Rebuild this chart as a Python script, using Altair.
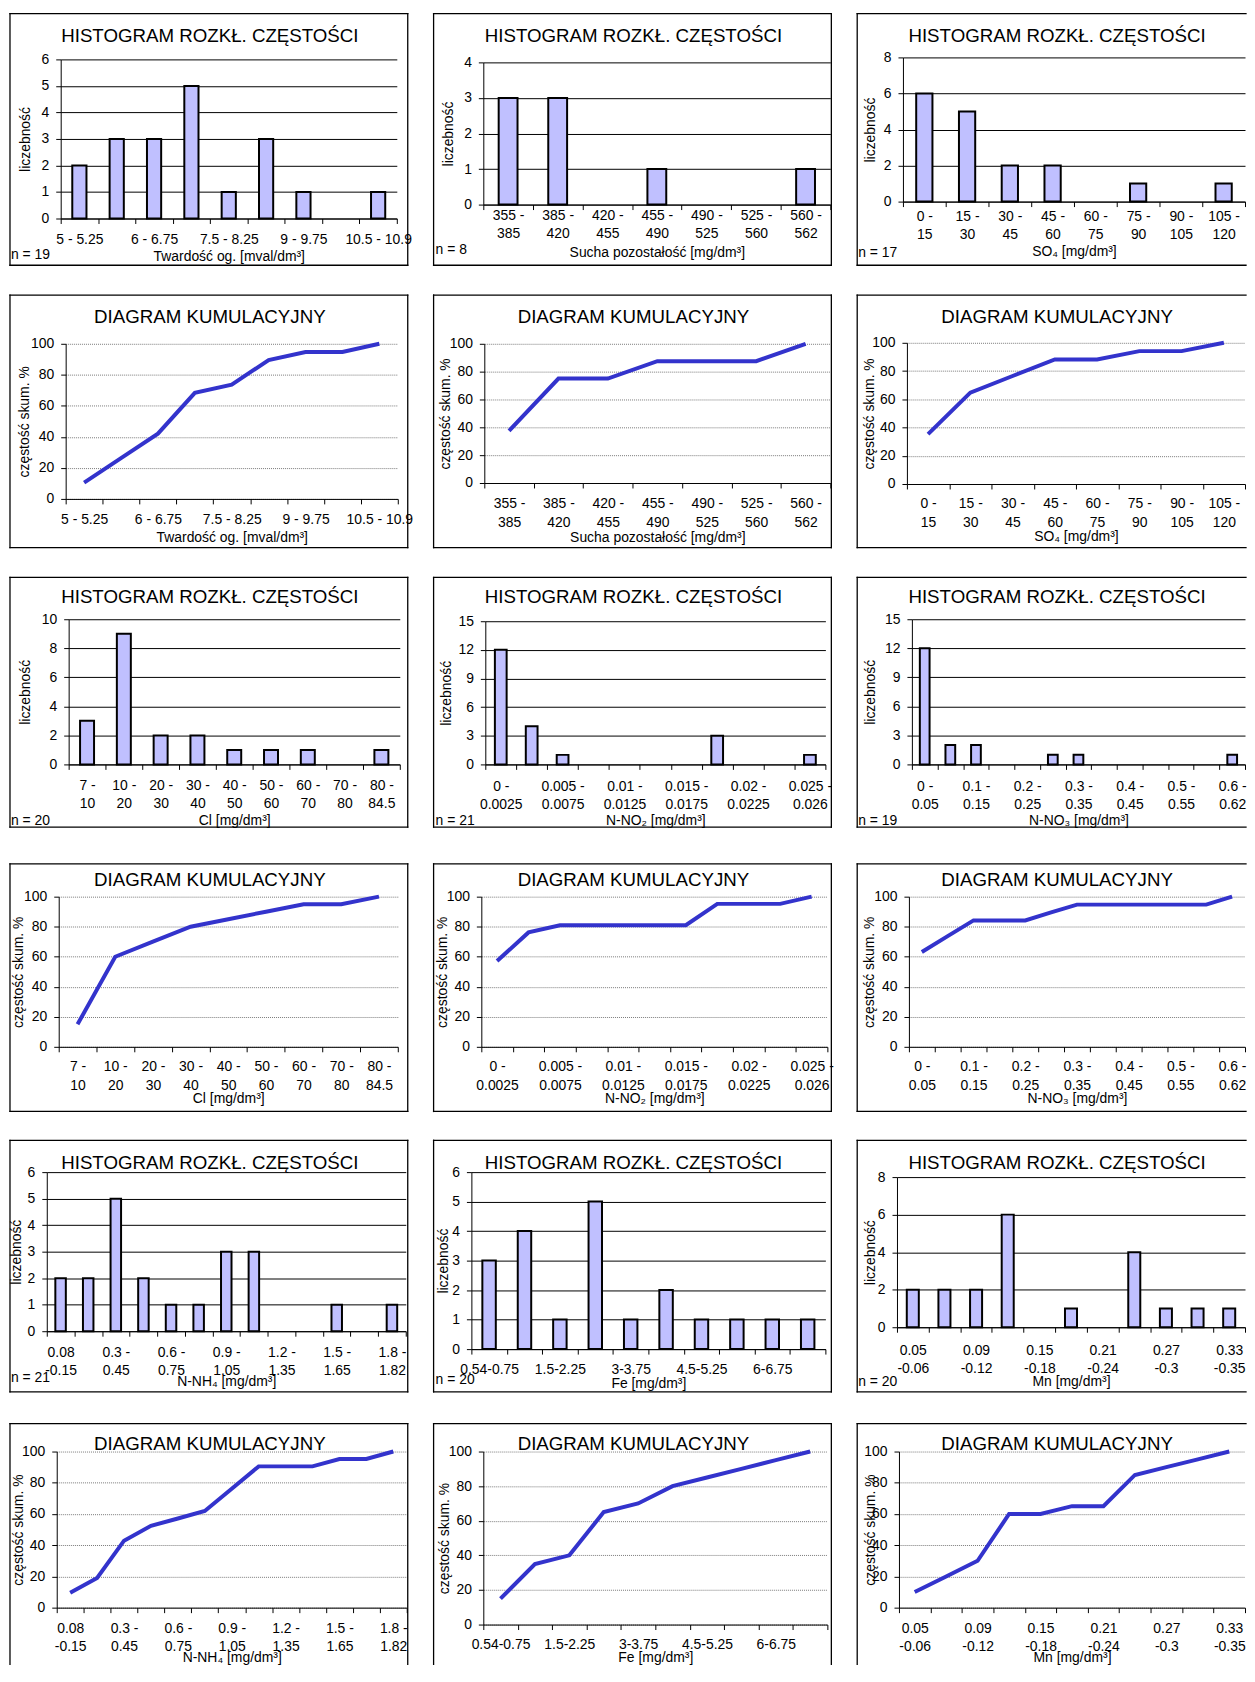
import json
import altair as alt
import pandas as pd

FONT = "Liberation Sans"
FS = 14
TICK = 5
BAR_FILL = "#C0C0FF"
LINE_COLOR = "#3333CC"

HIST_TITLE = "HISTOGRAM ROZKŁ. CZĘSTOŚCI"
CUM_TITLE = "DIAGRAM KUMULACYJNY"
Y_HIST = "liczebność"
Y_CUM = "częstość skum.  %"

# ---------------- data ----------------
tw_cats = ["5 - 5.25", "5.25 - 6", "6 - 6.75", "6.75 - 7.5", "7.5 - 8.25",
           "8.25 - 9", "9 - 9.75", "9.75 - 10.5", "10.5 - 10.9"]
tw_counts = [2, 3, 3, 5, 1, 3, 1, 0, 1]
tw_cum = [10.5, 26.3, 42.1, 68.4, 73.7, 89.5, 94.7, 94.7, 100]

sp_cats = ["355 - 385", "385 - 420", "420 - 455", "455 - 490", "490 - 525",
           "525 - 560", "560 - 562"]
sp_counts = [3, 3, 0, 1, 0, 0, 1]
sp_cum = [37.5, 75, 75, 87.5, 87.5, 87.5, 100]

so4_cats = ["0 - 15", "15 - 30", "30 - 45", "45 - 60", "60 - 75", "75 - 90",
            "90 - 105", "105 - 120"]
so4_counts = [6, 5, 2, 2, 0, 1, 0, 1]
so4_cum = [35.3, 64.7, 76.5, 88.2, 88.2, 94.1, 94.1, 100]

cl_cats = ["7 - 10", "10 - 20", "20 - 30", "30 - 40", "40 - 50", "50 - 60",
           "60 - 70", "70 - 80", "80 - 84.5"]
cl_counts = [3, 9, 2, 2, 1, 1, 1, 0, 1]
cl_cum = [15, 60, 70, 80, 85, 90, 95, 95, 100]

no2_cats = ["0 - 0.0025", "0.0025 - 0.005", "0.005 - 0.0075", "0.0075 - 0.01",
            "0.01 - 0.0125", "0.0125 - 0.015", "0.015 - 0.0175", "0.0175 - 0.02",
            "0.02 - 0.0225", "0.0225 - 0.025", "0.025 - 0.026"]
no2_counts = [12, 4, 1, 0, 0, 0, 0, 3, 0, 0, 1]
no2_cum = [57.1, 76.2, 81.0, 81.0, 81.0, 81.0, 81.0, 95.2, 95.2, 95.2, 100]

no3_cats = ["0 - 0.05", "0.05 - 0.1", "0.1 - 0.15", "0.15 - 0.2", "0.2 - 0.25",
            "0.25 - 0.3", "0.3 - 0.35", "0.35 - 0.4", "0.4 - 0.45", "0.45 - 0.5",
            "0.5 - 0.55", "0.55 - 0.6", "0.6 - 0.62"]
no3_counts = [12, 2, 2, 0, 0, 1, 1, 0, 0, 0, 0, 0, 1]
no3_cum = [63.2, 73.7, 84.2, 84.2, 84.2, 89.5, 94.7, 94.7, 94.7, 94.7, 94.7, 94.7, 100]

nh4_cats = ["0.08 -0.15", "0.15 - 0.3", "0.3 - 0.45", "0.45 - 0.6", "0.6 - 0.75",
            "0.75 - 0.9", "0.9 - 1.05", "1.05 - 1.2", "1.2 - 1.35", "1.35 - 1.5",
            "1.5 - 1.65", "1.65 - 1.8", "1.8 - 1.82"]
nh4_counts = [2, 2, 5, 2, 1, 1, 3, 3, 0, 0, 1, 0, 1]
nh4_cum = [9.5, 19.0, 42.9, 52.4, 57.1, 61.9, 76.2, 90.5, 90.5, 90.5, 95.2, 95.2, 100]

fe_cats = ["0.54-0.75", "0.75-1.5", "1.5-2.25", "2.25-3", "3-3.75", "3.75-4.5",
           "4.5-5.25", "5.25-6", "6-6.75", "6.75-7.5"]
fe_counts = [3, 4, 1, 5, 1, 2, 1, 1, 1, 1]
fe_cum = [15, 35, 40, 65, 70, 80, 85, 90, 95, 100]

mn_cats = ["0.05 -0.06", "0.06 -0.09", "0.09 -0.12", "0.12 -0.15", "0.15 -0.18",
           "0.18 -0.21", "0.21 -0.24", "0.24 -0.27", "0.27 -0.3", "0.3 -0.33",
           "0.33 -0.35"]
mn_counts = [2, 2, 2, 6, 0, 1, 0, 4, 1, 1, 1]
mn_cum = [10, 20, 30, 60, 60, 65, 65, 85, 90, 95, 100]

# ---------------- layout (reference pixel frame) ----------------
ROW_TOP = [11, 294, 579, 867, 1145, 1430]   # top of each row's frame
COL_LEFT = [9, 435, 862]                     # left of each column's frame
GROUP_H = [283, 284, 288, 278, 285, 242]     # cell heights (frame + gap)
GROUP_W = [426, 426, 392]                    # cell widths
BOX_H = [253, 254, 251, 249, 253, None]      # None -> frame open at bottom
BOX_W = [400, 400, None]                     # None -> frame open at right


def make_label_expr(cats, every, two):
    labels = []
    for i, c in enumerate(cats):
        if i % every:
            labels.append("")
        elif two:
            k = c.rfind(" ")
            labels.append([c[:k], c[k + 1:]])
        else:
            labels.append(c)
    return "%s[indexof(%s, datum.value)]" % (
        json.dumps(labels, ensure_ascii=False), json.dumps(cats, ensure_ascii=False))


def frame_layers(row, col):
    w, h = BOX_W[col], BOX_H[row]
    wr = w if w else GROUP_W[col] - 1
    hb = h if h else GROUP_H[row]
    base = alt.Chart(pd.DataFrame({"b": [0]})).mark_rule(
        color="black", strokeWidth=1.3, strokeCap="square")
    out = [base.encode(x=alt.value(0), x2=alt.value(wr), y=alt.value(0)),
           base.encode(x=alt.value(0), y=alt.value(0), y2=alt.value(hb))]
    if h:
        out.append(base.encode(x=alt.value(0), x2=alt.value(wr), y=alt.value(h)))
    if w:
        out.append(base.encode(x=alt.value(w), y=alt.value(0), y2=alt.value(hb)))
    return out


def make_panel(kind, cats, values, xtitle, n_text, row, col, plot, ymax, ystep,
               every, two, lab_cy, xt_cy, yt_cx, title_c, n_pos=None):
    ox, oy = COL_LEFT[col], ROW_TOP[row]
    Gw, Gh = GROUP_W[col], GROUP_H[row]
    px0, py0, px1, py1 = plot
    gx0, gx1, gy0, gy1 = px0 - ox, px1 - ox, py0 - oy, py1 - oy
    hist = kind == "hist"

    pad = lab_cy - 0.43 * FS - py1 - TICK
    x_axis = alt.Axis(
        title=xtitle, titleX=(gx0 + gx1) / 2, titleY=xt_cy - py1,
        titleBaseline="middle", titleAlign="center",
        labelExpr=make_label_expr(cats, every, two), labelAngle=0,
        labelOverlap=False, labelAlign="center", labelBaseline="top",
        labelLineHeight=18.5, labelPadding=pad, offset=gy1 - Gh,
        tickBand="extent", tickSize=TICK, grid=False)
    x_scale = alt.Scale(type="band", domain=cats, paddingInner=0, paddingOuter=0,
                        range=[gx0, gx1])

    yargs = dict(
        title=Y_HIST if hist else Y_CUM,
        values=list(range(0, ymax + 1, ystep)), grid=True,
        gridColor="black" if hist else "#7a7a7a", gridWidth=1,
        tickSize=TICK, labelPadding=7, offset=-gx0,
        titleX=yt_cx - px0, titleY=(gy0 + gy1) / 2, titleAngle=270,
        titleBaseline="middle", titleAlign="center")
    if not hist:
        yargs["gridDash"] = [1, 1]
    y_axis = alt.Axis(**yargs)
    y_scale = alt.Scale(domain=[0, ymax], nice=False, range=[gy1, gy0])

    df = pd.DataFrame({"cat": cats, "val": values})
    if hist:
        main = alt.Chart(df[df["val"] > 0]).mark_bar(
            width=alt.RelativeBandSize(0.38), fill=BAR_FILL, stroke="black",
            strokeWidth=2).encode(
            x=alt.X("cat:N", scale=x_scale, axis=x_axis),
            y=alt.Y("val:Q", scale=y_scale, axis=y_axis))
    else:
        main = alt.Chart(df).mark_line(color=LINE_COLOR, strokeWidth=4).encode(
            x=alt.X("cat:N", scale=x_scale, axis=x_axis, bandPosition=0.5),
            y=alt.Y("val:Q", scale=y_scale, axis=y_axis))

    title = alt.Chart(pd.DataFrame({"t": [HIST_TITLE if hist else CUM_TITLE]})).mark_text(
        font=FONT, fontSize=18.8, align="center", baseline="middle", color="black").encode(
        text="t:N", x=alt.value(title_c[0] - ox), y=alt.value(title_c[1] - oy + 1))

    layers = [main] + frame_layers(row, col) + [title]
    if n_text:
        layers.append(alt.Chart(pd.DataFrame({"t": [n_text]})).mark_text(
            font=FONT, fontSize=FS, align="left", baseline="alphabetic", color="black").encode(
            text="t:N", x=alt.value(n_pos[0] - ox), y=alt.value(n_pos[1] - oy)))
    return alt.layer(*layers).properties(width=Gw, height=Gh)


T_TW = "Twardość og. [mval/dm³]"
T_SP = "Sucha pozostałość  [mg/dm³]"
T_SO4 = "SO₄  [mg/dm³]"
T_CL = "Cl  [mg/dm³]"
T_NO2 = "N-NO₂  [mg/dm³]"
T_NO3 = "N-NO₃  [mg/dm³]"
T_NH4 = "N-NH₄  [mg/dm³]"
T_FE = "Fe  [mg/dm³]"
T_MN = "Mn  [mg/dm³]"

panels = [
    make_panel("hist", tw_cats, tw_counts, T_TW, "n = 19", 0, 0,
               (60, 57, 398, 217), 6, 1, 2, False, 237.5, 255, 25, (210, 32), (10, 258)),
    make_panel("hist", sp_cats, sp_counts, T_SP, "n = 8", 0, 1,
               (485, 60, 834, 203), 4, 1, 1, True, 213, 251, 450, (636, 32), (437, 253)),
    make_panel("hist", so4_cats, so4_counts, T_SO4, "n = 17", 0, 2,
               (908, 55, 1252, 200), 8, 2, 1, True, 214, 250, 875, (1063, 32), (863, 256)),

    make_panel("cum", tw_cats, tw_cum, T_TW, None, 1, 0,
               (65, 343, 399, 499), 100, 20, 2, False, 519, 538, 24, (210, 315)),
    make_panel("cum", sp_cats, sp_cum, T_SP, None, 1, 1,
               (486, 343, 834, 483), 100, 20, 1, True, 503, 538, 447, (636, 315)),
    make_panel("cum", so4_cats, so4_cum, T_SO4, None, 1, 2,
               (912, 342, 1252, 484), 100, 20, 1, True, 503, 537, 874, (1063, 315)),

    make_panel("hist", cl_cats, cl_counts, T_CL, "n = 20", 2, 0,
               (68, 621, 401, 767), 10, 2, 1, True, 787, 823, 25, (210, 598), (10, 828)),
    make_panel("hist", no2_cats, no2_counts, T_NO2, "n = 21", 2, 1,
               (487, 623, 829, 767), 15, 3, 2, True, 788, 823, 448, (636, 598), (437, 828)),
    make_panel("hist", no3_cats, no3_counts, T_NO3, "n = 19", 2, 2,
               (917, 621, 1252, 767), 15, 3, 2, True, 788, 823, 875, (1063, 598), (863, 828)),

    make_panel("cum", cl_cats, cl_cum, T_CL, None, 3, 0,
               (58, 900, 399, 1051), 100, 20, 1, True, 1070, 1103, 18, (210, 882)),
    make_panel("cum", no2_cats, no2_cum, T_NO2, None, 3, 1,
               (483, 900, 831, 1051), 100, 20, 2, True, 1070, 1103, 444, (636, 882)),
    make_panel("cum", no3_cats, no3_cum, T_NO3, None, 3, 2,
               (914, 900, 1252, 1051), 100, 20, 2, True, 1070, 1103, 874, (1063, 882)),

    make_panel("hist", nh4_cats, nh4_counts, T_NH4, "n = 21", 4, 0,
               (46, 1177, 407, 1337), 6, 1, 2, True, 1357, 1388, 16, (210, 1167), (10, 1388)),
    make_panel("hist", fe_cats, fe_counts, T_FE, "n = 20", 4, 1,
               (473, 1177, 829, 1355), 6, 1, 2, False, 1375, 1390, 445, (636, 1167), (437, 1390)),
    make_panel("hist", mn_cats, mn_counts, T_MN, "n = 20", 4, 2,
               (902, 1182, 1252, 1333), 8, 2, 2, True, 1355, 1388, 875, (1063, 1167), (863, 1392)),

    make_panel("cum", nh4_cats, nh4_cum, T_NH4, None, 5, 0,
               (56, 1458, 408, 1615), 100, 20, 2, True, 1635, 1665, 18, (210, 1449)),
    make_panel("cum", fe_cats, fe_cum, T_FE, None, 5, 1,
               (485, 1458, 831, 1632), 100, 20, 2, False, 1651, 1665, 446, (636, 1449)),
    make_panel("cum", mn_cats, mn_cum, T_MN, None, 5, 2,
               (904, 1458, 1252, 1615), 100, 20, 2, True, 1635, 1665, 875, (1063, 1449)),
]

chart = alt.concat(*panels, columns=3, spacing=0, bounds="flush", align="each").properties(
    padding={"left": 1, "top": 0, "right": 0, "bottom": 0}
).configure(font=FONT).configure_view(strokeWidth=0).configure_axis(
    labelFont=FONT, titleFont=FONT, labelFontSize=FS, titleFontSize=14,
    titleFontWeight="normal", labelColor="black", titleColor="black",
    domainColor="black", tickColor="black", domainWidth=1, tickWidth=1)

chart.save("out.html", embed_options={"renderer": "svg", "actions": False})
